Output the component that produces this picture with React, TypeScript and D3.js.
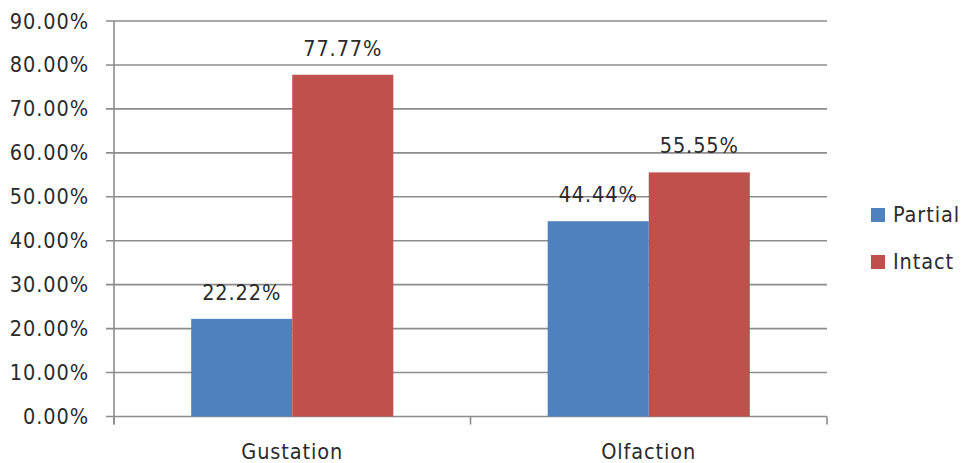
import React from "react";
import * as d3 from "d3";

const categories = ["Gustation", "Olfaction"];
const seriesNames = ["Partial", "Intact"];
const partialValues = [22.22, 44.44];
const intactValues = [77.77, 55.55];
const yTicks = [0, 10, 20, 30, 40, 50, 60, 70, 80, 90];
const colors = ["#4F81BD", "#C0504D"];

const W = 965;
const H = 463;
const M = { left: 114, right: 138, top: 21, bottom: 46.5 };
const FONT = "'DejaVu Sans Condensed', 'DejaVu Sans', sans-serif";
const FS = 21.5;
const LS = 0.9;

export default function App() {
  const x0 = d3
    .scaleBand<string>()
    .domain(categories)
    .range([M.left, W - M.right])
    .paddingInner(0)
    .paddingOuter(0);
  const groupW = x0.bandwidth() * 0.567;
  const x1 = d3.scaleBand<string>().domain(seriesNames).range([0, groupW]);
  const y = d3.scaleLinear().domain([0, 90]).range([H - M.bottom, M.top]);
  const series = [partialValues, intactValues];
  const grid = "#8c8c8c";
  const textCol = "#2b2b2b";

  return (
    <svg width={W} height={H} style={{ position: "absolute", left: 0, top: 0, background: "#fff" }}>
      {yTicks.map((t) => (
        <g key={t}>
          <line x1={M.left - 8} x2={W - M.right} y1={y(t)} y2={y(t)} stroke={grid} strokeWidth={1.6} />
          <text x={89} y={y(t) + 7.5} textAnchor="end" fontFamily={FONT} fontSize={FS} letterSpacing={LS} fill={textCol}>
            {t.toFixed(2)}%
          </text>
        </g>
      ))}
      <line x1={M.left} x2={M.left} y1={y(90)} y2={y(0) + 8} stroke={grid} strokeWidth={1.6} />
      {[...categories.map((c) => x0(c)!), W - M.right].map((xv, i) => (
        <line key={i} x1={xv} x2={xv} y1={y(0)} y2={y(0) + 8} stroke={grid} strokeWidth={1.6} />
      ))}
      {categories.map((c, ci) => {
        const gx = x0(c)! + (x0.bandwidth() - groupW) / 2;
        return (
          <g key={c}>
            {seriesNames.map((s, si) => {
              const v = series[si][ci];
              const bx = gx + x1(s)!;
              return (
                <g key={s}>
                  <rect x={bx} y={y(v)} width={x1.bandwidth()} height={y(0) - y(v)} fill={colors[si]} />
                  <text
                    x={bx + x1.bandwidth() / 2}
                    y={y(v) - 19}
                    textAnchor="middle"
                    fontFamily={FONT}
                    fontSize={FS}
                    letterSpacing={LS}
                    fill={textCol}
                  >
                    {v.toFixed(2)}%
                  </text>
                </g>
              );
            })}
            <text
              x={x0(c)! + x0.bandwidth() / 2}
              y={459}
              textAnchor="middle"
              fontFamily={FONT}
              fontSize={FS}
              letterSpacing={LS}
              fill={textCol}
            >
              {c}
            </text>
          </g>
        );
      })}
      {seriesNames.map((s, si) => (
        <g key={s} transform={`translate(871, ${208 + si * 47})`}>
          <rect x={0} y={0} width={14} height={14} fill={colors[si]} />
          <text x={22} y={14} fontFamily={FONT} fontSize={FS} letterSpacing={LS} fill={textCol}>
            {s}
          </text>
        </g>
      ))}
    </svg>
  );
}
